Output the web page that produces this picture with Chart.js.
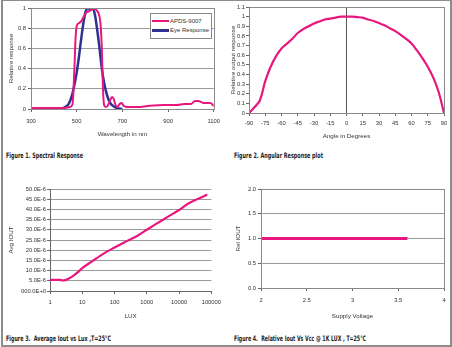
<!DOCTYPE html>
<html>
<head>
<meta charset="utf-8"/>
<style>
  html,body{margin:0;padding:0;background:#fff;}
  #page{position:relative;width:452px;height:347px;overflow:hidden;background:#fff;}
  #frame{position:absolute;left:1px;top:-1px;width:447px;height:344px;border:2px solid #8c8c8c;}
  canvas{position:absolute;}
  .cap{position:absolute;font-family:"DejaVu Sans Condensed","Liberation Sans Narrow",sans-serif;font-weight:bold;
       font-size:7.5px;color:#222;white-space:pre;transform-origin:0 50%;line-height:9px;}
  #legend{position:absolute;left:150px;top:13px;width:60px;height:24px;border:1px solid #888;background:#fff;
          font-family:"Liberation Sans",Arial,sans-serif;font-size:6px;color:#333;}
  #legend .row{position:absolute;left:1px;height:8px;line-height:8px;}
  #legend .sw{display:inline-block;width:17px;vertical-align:middle;margin-right:1px;}
</style>
</head>
<body>
<div id="page">
  <canvas id="c1"></canvas>
  <canvas id="c2"></canvas>
  <canvas id="c3"></canvas>
  <canvas id="c4"></canvas>
  <div id="legend">
    <div class="row" style="top:3px"><span class="sw" style="height:2px;background:#e8177f"></span>APDS-9007</div>
    <div class="row" style="top:12px"><span class="sw" style="height:3px;background:#2e3192"></span>Eye Response</div>
  </div>
  <div class="cap" data-w="77" style="left:6px;top:151px">Figure 1. Spectral Response</div>
  <div class="cap" data-w="89" style="left:234px;top:151px">Figure 2. Angular Response plot</div>
  <div class="cap" data-w="105" style="left:6px;top:334px">Figure 3.  Average Iout vs Lux ,T=25°C</div>
  <div class="cap" data-w="132" style="left:234px;top:334px">Figure 4.  Relative Iout Vs Vcc @ 1K LUX , T=25°C</div>
  <div id="frame"></div>
</div>
<script src="https://cdn.jsdelivr.net/npm/chart.js@4.4.0/dist/chart.umd.min.js"></script>
<script>
// Figure 1 - spectral response
const apdsNm   = [300,350,400,440,470,482,490,495,500,510,520,530,540,555,570,580,590,598,604,610,615,620,627,635,645,655,662,670,678,688,697,706,725,770,810,880,910,940,970,1000,1018,1032,1055,1085,1100];
const apdsResp = [0.01,0.01,0.01,0.01,0.02,0.05,0.4,0.7,0.82,0.85,0.87,0.91,0.95,0.97,0.99,0.99,0.97,0.93,0.85,0.6,0.2,0.04,0.02,0.03,0.08,0.12,0.1,0.04,0.02,0.05,0.06,0.03,0.02,0.02,0.03,0.04,0.04,0.04,0.05,0.05,0.08,0.08,0.06,0.06,0.03];
const eyeNm    = [410,430,450,465,480,490,500,510,520,530,540,550,560,570,580,590,600,610,620,630,640,650,660,675,700];
const eyeResp  = [0.0,0.005,0.02,0.05,0.14,0.24,0.36,0.52,0.7,0.86,0.97,1.0,0.98,1.0,0.93,0.78,0.6,0.4,0.26,0.16,0.09,0.05,0.03,0.01,0.0];
const spectralTicks = [300,500,700,900,1100];

// Figure 2 - angular response
const angleDeg  = [-90,-85,-80,-75,-70,-65,-60,-55,-50,-45,-40,-35,-30,-25,-20,-15,-10,-5,0,5,10,15,20,25,30,35,40,45,50,55,60,65,70,75,80,85,90];
const angleResp = [0,0.06,0.13,0.33,0.48,0.59,0.67,0.72,0.77,0.83,0.87,0.9,0.93,0.95,0.97,0.98,0.99,1.0,1.0,1.0,0.995,0.99,0.97,0.955,0.935,0.91,0.88,0.85,0.81,0.77,0.72,0.65,0.57,0.48,0.37,0.22,0];

// Figure 3 - average Iout vs lux
const luxVals = [1,2,2.5,3,4,5,7,10,20,50,100,200,500,1000,2000,5000,10000,20000,50000,75000];
const ioutAvg = [5.5e-6,5.5e-6,5.2e-6,5.3e-6,6.3e-6,7.2e-6,9.0e-6,11.2e-6,14.5e-6,18.7e-6,21.3e-6,23.8e-6,27e-6,30e-6,33e-6,36.8e-6,39.7e-6,43e-6,46e-6,47.3e-6];

// Figure 4 - relative Iout vs Vcc
const vccVals = [2,2.5,3,3.3,3.6];
const relIout = [1,1,1,1,1];

const PINK = '#e8177f', BLUE = '#2e3192';
const TXT = '#333', GRID = '#9a9a9a', AXIS = '#666';
const FONT = {family:'"Liberation Sans", Arial, sans-serif', size:5.8};
const TFONT = {family:'"Liberation Sans", Arial, sans-serif', size:6.2};

Chart.defaults.animation = false;
Chart.defaults.font = FONT;
Chart.defaults.color = TXT;

const pts = (xs, ys) => xs.map((x, i) => ({x, y: ys[i]}));
const plain = v => String(Math.round(v * 10) / 10);

const plotBorder = {
  id: 'plotBorder',
  afterDraw(chart, args, opts) {
    if (!opts.on) return;
    const {ctx, chartArea: a} = chart;
    ctx.save();
    ctx.strokeStyle = '#8a8a8a';
    ctx.lineWidth = 1;
    ctx.strokeRect(Math.round(a.left) + 0.5, Math.round(a.top) + 0.5, Math.round(a.right - a.left), Math.round(a.bottom - a.top));
    ctx.restore();
  }
};
Chart.register(plotBorder);

// place a canvas so its plot area lands at the given page coords
function place(id, box, plot) {
  const c = document.getElementById(id);
  c.style.left = box.x + 'px'; c.style.top = box.y + 'px';
  c.style.width = box.w + 'px'; c.style.height = box.h + 'px';
  c.width = box.w; c.height = box.h;
  return {
    c,
    padding: {left: 0, bottom: 0, top: plot.t - box.y, right: box.x + box.w - plot.r},
    yW: plot.l - box.x,
    xH: box.y + box.h - plot.b
  };
}

function xScale(L, extra) {
  return Object.assign({
    type: 'linear',
    afterFit: s => { s.height = L.xH; },
    border: {display: true, color: AXIS},
    grid: {drawOnChartArea: false, tickLength: 3, tickColor: AXIS},
  }, extra);
}
function yScale(L, extra) {
  return Object.assign({
    type: 'linear',
    afterFit: s => { s.width = L.yW; },
    border: {display: true, color: AXIS},
    grid: {color: GRID, tickLength: 3, tickColor: AXIS},
  }, extra);
}
function baseOpts(L, border, scales) {
  return {
    responsive: false,
    layout: {padding: L.padding},
    plugins: {legend: {display: false}, tooltip: {enabled: false}, plotBorder: {on: border}},
    elements: {point: {radius: 0}},
    scales
  };
}

// ---- Figure 1
const L1 = place('c1', {x: 0, y: 0, w: 226, h: 145}, {l: 31, t: 8, r: 217, b: 109});
new Chart(L1.c, {
  type: 'line',
  data: {datasets: [
    {data: pts(apdsNm, apdsResp), borderColor: PINK, borderWidth: 2, cubicInterpolationMode: 'monotone'},
    {data: pts(eyeNm, eyeResp), borderColor: BLUE, borderWidth: 2.5, cubicInterpolationMode: 'monotone'}
  ]},
  options: baseOpts(L1, true, {
    x: xScale(L1, {min: 300, max: 1100,
      afterBuildTicks: s => { s.ticks = spectralTicks.map(v => ({value: v})); },
      ticks: {padding: 6, maxRotation: 0, callback: v => String(v)},
      title: {display: true, text: 'Wavelength in nm', font: TFONT, padding: {top: 0, bottom: 7}}}),
    y: yScale(L1, {min: 0, max: 1, ticks: {stepSize: 0.2, padding: 2, callback: plain},
      title: {display: true, text: 'Relative response', font: TFONT, padding: {top: 8, bottom: 0}}})
  })
});

// ---- Figure 2
const L2 = place('c2', {x: 226, y: 0, w: 226, h: 145}, {l: 249, t: 7, r: 444, b: 113});
new Chart(L2.c, {
  type: 'line',
  data: {datasets: [
    {data: pts(angleDeg, angleResp), borderColor: PINK, borderWidth: 2.2, tension: 0.4}
  ]},
  options: baseOpts(L2, true, {
    x: xScale(L2, {min: -90, max: 90,
      grid: {drawOnChartArea: true, color: c => (c.tick && c.tick.value === 0) ? '#555' : 'rgba(0,0,0,0)', tickLength: 3, tickColor: AXIS},
      ticks: {stepSize: 15, padding: 4, maxRotation: 0, autoSkip: false, callback: v => String(v)},
      title: {display: true, text: 'Angle in Degrees', font: TFONT, padding: {top: 0, bottom: 5}}}),
    y: yScale(L2, {min: 0, max: 1.1,
      grid: {drawOnChartArea: false, tickLength: 3, tickColor: AXIS},
      ticks: {stepSize: 0.1, padding: 1, autoSkip: false, callback: plain},
      title: {display: true, text: 'Relative output response', font: TFONT, padding: {top: 3.5, bottom: 0}}})
  })
});

// ---- Figure 3
const L3 = place('c3', {x: 0, y: 160, w: 226, h: 170}, {l: 50, t: 189, r: 217, b: 291});
new Chart(L3.c, {
  type: 'line',
  data: {datasets: [
    {data: pts(luxVals, ioutAvg), borderColor: PINK, borderWidth: 2.2, cubicInterpolationMode: 'monotone'}
  ]},
  options: baseOpts(L3, false, {
    x: xScale(L3, {type: 'logarithmic', min: 1, max: 100000,
      afterBuildTicks: s => { s.ticks = s.ticks.filter(t => Math.abs(Math.log10(t.value) - Math.round(Math.log10(t.value))) < 1e-9); },
      ticks: {padding: 5, maxRotation: 0, autoSkip: false, callback: v => String(v)},
      title: {display: true, text: 'LUX', font: TFONT, padding: {top: 0, bottom: 10}}}),
    y: yScale(L3, {min: 0, max: 50e-6,
      ticks: {stepSize: 5e-6, padding: 1, autoSkip: false,
        callback: v => { const u = Math.round(v * 1e7) / 10; return u === 0 ? '000.0E+0' : u.toFixed(1) + 'E-6'; }},
      title: {display: true, text: 'Avg IOUT', font: TFONT, padding: {top: 8, bottom: 0}}})
  })
});

// ---- Figure 4
const L4 = place('c4', {x: 226, y: 160, w: 226, h: 170}, {l: 261, t: 189, r: 444, b: 288});
new Chart(L4.c, {
  type: 'line',
  data: {datasets: [
    {data: pts(vccVals, relIout), borderColor: PINK, borderWidth: 3}
  ]},
  options: baseOpts(L4, true, {
    x: xScale(L4, {min: 2, max: 4, ticks: {stepSize: 0.5, padding: 6, maxRotation: 0, callback: plain},
      title: {display: true, text: 'Supply Voltage', font: TFONT, padding: {top: 0, bottom: 10}}}),
    y: yScale(L4, {min: 0, max: 2, ticks: {stepSize: 0.5, padding: 2, callback: v => v.toFixed(1)},
      title: {display: true, text: 'Rel IOUT', font: TFONT, padding: {top: 9, bottom: 0}}})
  })
});

// squeeze the condensed captions to the widths in the figure
document.querySelectorAll('.cap').forEach(el => {
  const w = el.getBoundingClientRect().width;
  el.style.transform = 'scaleX(' + (parseFloat(el.dataset.w) / w) + ')';
});
</script>
</body>
</html>
